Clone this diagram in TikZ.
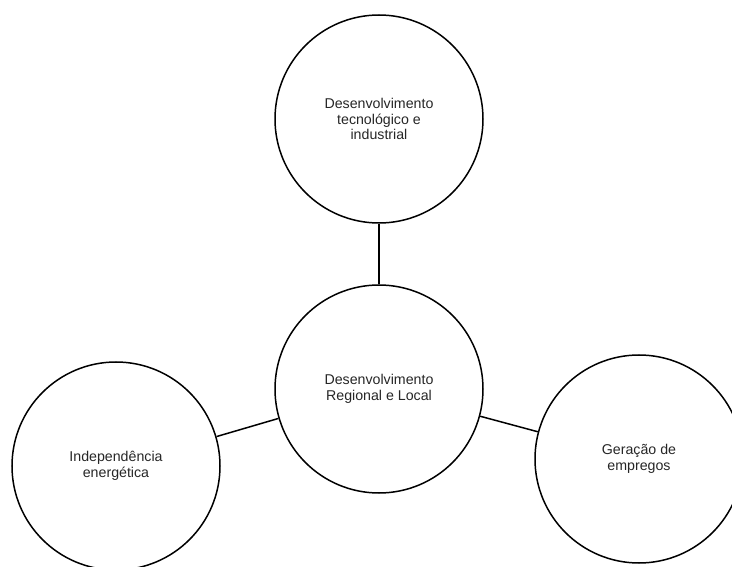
\documentclass[tikz,border=0pt]{standalone}
\usepackage{fontspec}
\setmainfont{Liberation Sans}
\begin{document}
\begin{tikzpicture}[x=1pt,y=1pt,
  bubble/.style={draw=black, line width=1.5pt, circle, minimum size=208pt, inner sep=0pt,
    align=center, font=\fontsize{14.2}{15.4}\selectfont, text=black!85},
  link/.style={draw=black, line width=1.5pt}]
\useasboundingbox (0,0) rectangle (732,566);
\clip (0,0) rectangle (732,566);
\node[bubble] (top) at (379,447) {Desenvolvimento\\tecnológico e\\industrial};
\node[bubble] (mid) at (379,177) {Desenvolvimento\\Regional e Local};
\node[bubble] (left) at (116,100) {Independência\\energética};
\node[bubble] (right) at (639,107) {Geração de\\empregos};
\draw[link] (top) -- (mid);
\draw[link] (mid) -- (left);
\draw[link] (mid) -- (right);
\end{tikzpicture}
\end{document}
